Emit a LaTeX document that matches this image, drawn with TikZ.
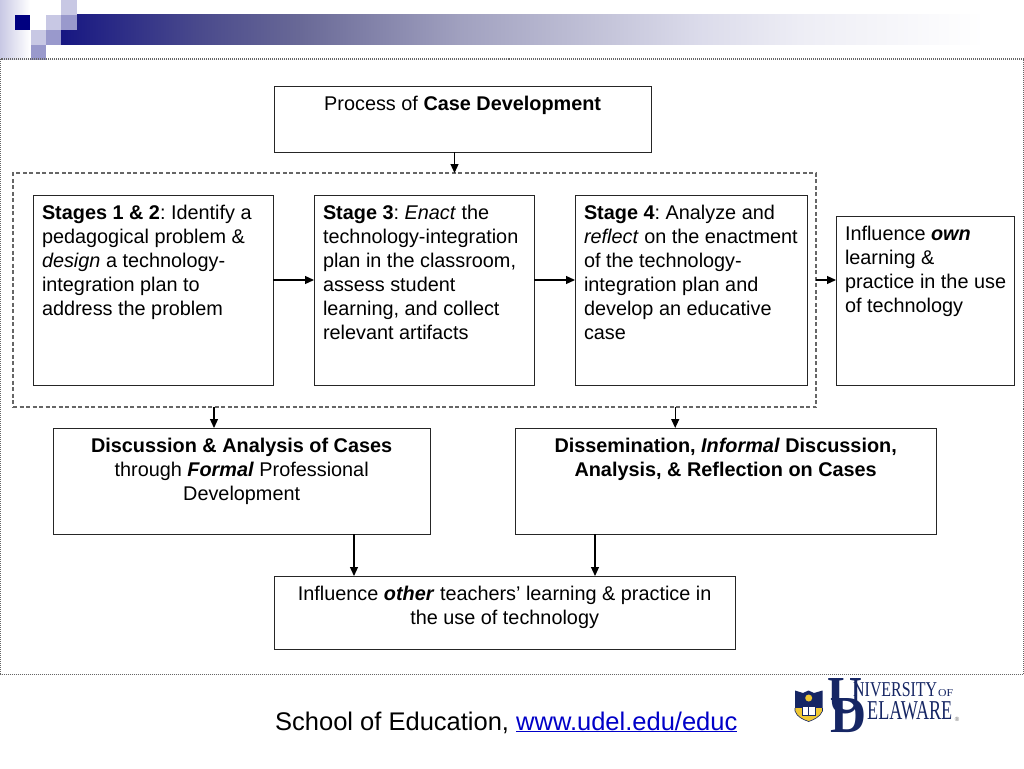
\documentclass[tikz,border=0pt]{standalone}
\usepackage{fontspec}
\usepackage{graphicx}
\setmainfont{Liberation Sans}
\newfontfamily\logofont{Liberation Serif}
\usetikzlibrary{arrows.meta,calc}
\definecolor{navy}{RGB}{0,0,128}
\definecolor{lightsq}{RGB}{200,200,228}
\definecolor{medsq}{RGB}{153,153,204}
\definecolor{logoblue}{RGB}{22,38,100}
\definecolor{logogold}{RGB}{240,200,50}
\definecolor{linkblue}{RGB}{0,0,200}
\pgfdeclarehorizontalshading{barfade}{100bp}{
  rgb(0bp)=(0.09,0.09,0.51);
  rgb(25bp)=(0.09,0.09,0.51);
  rgb(32.5bp)=(0.29,0.29,0.55);
  rgb(37.9bp)=(0.41,0.41,0.59);
  rgb(46.6bp)=(0.63,0.63,0.75);
  rgb(59.6bp)=(0.86,0.86,0.92);
  rgb(65bp)=(0.93,0.93,0.96);
  rgb(75bp)=(1,1,1);
  rgb(100bp)=(1,1,1)}
\tikzset{
  x=1pt,y=-1pt,
  boxs/.style={draw=black!85,line width=1pt,anchor=north west,inner sep=0pt,outer sep=0pt,fill=white},
  dashbox/.style={draw=black!60,line width=1.1pt,dash pattern=on 4pt off 2.5pt,anchor=north west,inner sep=0pt,outer sep=0pt},
  conn/.style={draw=black,line width=1.2pt,-{Triangle[length=9pt,width=8pt]}},
  logotext/.style={inner sep=0pt,text=logoblue,anchor=base west},
}
\newlength\bwid\newlength\bhei
% name, x1, y1, x2, y2, alignment, text
\newcommand\tbox[7]{%
  \pgfmathsetlength\bwid{#4-#2-0.7}\pgfmathsetlength\bhei{#5-#3}%
  \node[boxs,minimum width=\bwid,minimum height=\bhei] (#1) at (#2,#3)
    {\parbox[c][\bhei][t]{\bwid}{\vspace{10pt}\fontsize{19.85}{24}\selectfont\frenchspacing#6\leavevmode#7\par}};%
}
\newcommand\lft{\raggedright\leftskip=9pt\relax}
\newcommand\ctr{\centering}
\newcommand\logofit[3]{\resizebox{#1}{#2}{\logofont #3}}
\begin{document}
\begin{tikzpicture}
\useasboundingbox (0,0) rectangle (1024,768);
\fill[white] (0,0) rectangle (1024,768);
% template banner
\shade[left color=lightsq,right color=white] (0,0) rectangle (30,59);
\shade[shading=barfade] (61,15) rectangle (985,45);
\fill[white] (30,0) rectangle (61,30);
\fill[white] (61,0) rectangle (77,15);
\fill[white] (30,45) rectangle (61,59);
\fill[navy] (14.5,15) rectangle (30,30);
\fill[lightsq] (46,15) rectangle (61,30);
\fill[medsq] (61,15) rectangle (77,30);
\fill[lightsq] (61,0) rectangle (77,15);
\fill[lightsq] (31,30) rectangle (46,45);
\fill[medsq] (46,30) rectangle (61,45);
\fill[medsq] (31,45) rectangle (46,60);
% frame
\draw[black!60,line width=1pt,dash pattern=on 1pt off 1pt] (0.5,59) rectangle (1023,674);
% boxes
\node[dashbox,minimum width=803pt,minimum height=234pt] (group) at (13,173) {};
\tbox{title}{274}{86}{652}{152}{\ctr}{Process of \textbf{Case Development}}
\tbox{sa}{33}{195}{274}{385}{\lft}{\textbf{Stages 1 \& 2}: Identify a\\pedagogical problem \&\\\textit{design} a technology-\\integration plan to\\address the problem}
\tbox{sb}{314}{195}{535}{385}{\lft}{\textbf{Stage 3}: \textit{Enact} the\\technology-integration\\plan in the classroom,\\assess student\\learning, and collect\\relevant artifacts}
\tbox{sc}{575}{195}{808}{385}{\lft}{\textbf{Stage 4}: Analyze and\\\textit{reflect} on the enactment\\of the technology-\\integration plan and\\develop an educative\\case}
\tbox{own}{836}{216}{1015}{385}{\lft}{Influence \textbf{\textit{own}}\\learning \&\\practice in the use\\of technology}
\tbox{disc}{53}{428}{431}{534}{\ctr}{\textbf{Discussion \& Analysis of Cases}\\through \textbf{\textit{Formal}} Professional\\Development}
\tbox{diss}{515}{428}{937}{534}{\ctr}{\textbf{Dissemination, \textit{Informal} Discussion,}\\\textbf{Analysis, \& Reflection on Cases}}
\tbox{other}{274}{576}{736}{649}{\ctr}{Influence \textbf{\textit{other}} teachers’ learning \& practice in\\the use of technology}
% connector anchors
\coordinate (ct) at (454.5,0);
\coordinate (rowy) at (0,280);
\coordinate (cd) at (214,0);
\coordinate (ce) at (675.2,0);
\coordinate (cf) at (354,0);
\coordinate (cg) at (595,0);
\draw[conn] (ct |- title.south) -- (ct |- group.north);
\draw[conn] (sa.east |- rowy) -- (sb.west |- rowy);
\draw[conn] (sb.east |- rowy) -- (sc.west |- rowy);
\draw[conn] (group.east |- rowy) -- (own.west |- rowy);
\draw[conn] (cd |- group.south) -- (cd |- disc.north);
\draw[conn] (ce |- group.south) -- (ce |- diss.north);
\draw[conn] (cf |- disc.south) -- (cf |- other.north);
\draw[conn] (cg |- diss.south) -- (cg |- other.north);
% footer
\node[inner sep=0pt,anchor=base west] (foot) at (275,730) {\fontsize{25.5}{28}\selectfont\frenchspacing School of Education, \textcolor{linkblue}{\underline{www.udel.edu/educ}}};
% logo shield
\fill[logoblue] (795,690.5) -- (803,693) -- (808.5,690.5) -- (814,693) -- (822.5,690.5) -- (822.5,708) -- (795,708) -- cycle;
\fill[logogold] (795,708) -- (822.5,708) -- (822.5,711) .. controls (820,717) and (814,719.5) .. (808.7,721.5) .. controls (803,719.5) and (797,717) .. (795,711) -- cycle;
\draw[logoblue,line width=0.6pt] (795,708) -- (795,711) .. controls (797,717) and (803,719.5) .. (808.7,721.5) .. controls (814,719.5) and (820,717) .. (822.5,711) -- (822.5,708);
\fill[logogold] (808.7,698) circle (3.5);
\fill[white,draw=logoblue,line width=0.5pt] (802,706) rectangle (808.7,715);
\fill[white,draw=logoblue,line width=0.5pt] (808.7,706) rectangle (815.5,715);
% logo lettering
\node[logotext] (lu) at (827,713) {\logofit{35pt}{35pt}{\bfseries U}};
\node[logotext] (ld) at (830,732) {\logofit{36pt}{34pt}{\bfseries D}};
\node[logotext] (lniv) at (853,696) {\logofit{84pt}{14pt}{NIVERSITY}};
\node[logotext] (lof) at (938,696) {\logofit{15pt}{7pt}{OF}};
\node[logotext] (lela) at (867,719) {\logofit{85pt}{18pt}{ELAWARE}};
\node[inner sep=0pt,text=black!60] (lreg) at (957,719) {\fontsize{6}{6}\selectfont ®};
\end{tikzpicture}
\end{document}
